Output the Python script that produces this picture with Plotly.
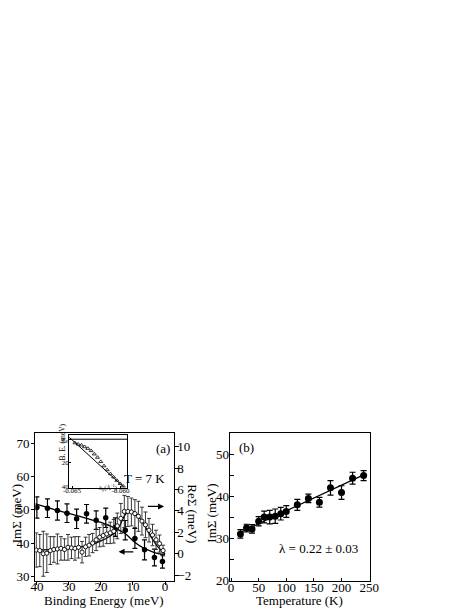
import plotly.graph_objects as go

# ---------------- data: panel (a) ----------------
im_be = [40.0, 36.7, 33.6, 30.6, 27.6, 24.5, 21.5, 18.5, 15.5, 12.4, 9.4, 6.4, 3.3, 0.8]
im_val = [50.7, 50.5, 49.8, 49.0, 47.3, 48.8, 46.9, 47.6, 44.8, 43.9, 41.4, 38.0, 35.7, 34.5]
im_err = [3.2, 2.8, 2.9, 2.8, 2.9, 2.8, 2.8, 2.9, 2.8, 2.9, 3.0, 3.0, 2.5, 2.0]

im_fit_be = [40.5, 37, 34, 30, 25, 20, 17, 15, 13, 12, 11, 10, 8.5, 7, 5, 3, 1, 0]
im_fit = [51.8, 50.8, 49.9, 48.9, 47.6, 46.2, 45.1, 44.2, 43.2, 42.5, 41.6, 40.7, 39.6, 38.7, 37.8, 37.1, 36.7, 36.6]

re_be = [40.2, 39.1, 38.0, 36.9, 35.8, 34.7, 33.6, 32.5, 31.4, 30.3, 29.2, 28.1, 27.0, 25.9,
         24.8, 23.7, 22.6, 21.5, 20.4, 19.3, 18.2, 17.1, 16.0, 14.9, 13.8, 12.7, 11.6, 10.5,
         9.4, 8.3, 7.2, 6.1, 5.0, 3.9, 2.8, 1.7, 0.6]
re_val = [0.35, 0.3, 0.0, 0.05, 0.3, 0.4, 0.45, 0.5, 0.4, 0.6, 0.55, 0.5, 0.6, 0.15,
          0.65, 0.8, 1.0, 1.3, 1.55, 1.7, 1.85, 1.95, 2.1, 2.6, 3.3, 3.95, 3.95, 3.9,
          3.75, 3.5, 3.05, 2.7, 2.2, 1.75, 1.3, 0.95, 0.3]
re_err = [1.6, 1.5, 2.1, 1.8, 1.3, 1.2, 1.4, 1.1, 1.0, 1.2, 1.0, 1.1, 1.0, 1.0,
          0.9, 1.0, 0.9, 1.0, 0.9, 1.0, 0.9, 1.0, 1.1, 1.2, 1.4, 1.5, 1.4, 1.3,
          1.3, 1.4, 1.3, 1.2, 1.1, 1.0, 0.9, 0.8, 0.5]

re_fit_be = [40.5, 36, 32, 28, 25, 22, 20, 18, 16, 15, 14, 13, 12, 11, 10, 9, 8, 7, 6, 5, 4, 3, 2, 1, 0]
re_fit = [0.35, 0.38, 0.45, 0.58, 0.72, 0.95, 1.2, 1.5, 1.9, 2.2, 2.7, 3.35, 3.8, 3.95, 3.92,
          3.72, 3.38, 2.95, 2.45, 1.9, 1.4, 0.95, 0.57, 0.25, 0.0]

# inset
inset_k = [-0.0647, -0.06437, -0.06403, -0.0637, -0.06337, -0.06303, -0.0627, -0.06237,
           -0.06203, -0.0617, -0.06137, -0.06103, -0.0607, -0.06037, -0.06003, -0.0597]
inset_be = [3.1, 4.2, 5.0, 6.4, 7.8, 9.7, 12.5, 15.3, 18.9, 22.5, 25.8, 29.2, 31.9, 34.7, 37.5, 39.7]
inset_line_k = [-0.0653, -0.0596]
inset_line_be = [-1.7, 40.8]

# ---------------- data: panel (b) ----------------
temp = [17, 28, 38, 50, 60, 70, 80, 90, 100, 120, 140, 160, 180, 200, 220, 240]
im_t = [31.1, 32.5, 32.3, 34.1, 35.1, 35.1, 35.3, 35.9, 36.4, 38.0, 39.5, 38.6, 42.0, 40.9, 44.3, 44.9]
im_t_err = [1.0, 0.9, 1.0, 1.1, 1.4, 1.6, 1.7, 1.5, 1.4, 1.3, 1.0, 1.15, 1.7, 1.6, 1.4, 1.2]
fit_t = [15, 242]
fit_im_t = [31.4, 45.2]

FONT = "Liberation Serif"
OFFX = 8          # page body margin offset (horizontal)
W, H = 471 - OFFX, 609


def px(x):
    return (x - OFFX) / W


def py(y):
    return 1 - y / H


fig = go.Figure()

# panel (a) traces
fig.add_trace(go.Scatter(x=im_fit_be, y=im_fit, mode="lines", line=dict(color="black", width=1.3, shape="spline"),
                         xaxis="x", yaxis="y", showlegend=False, hoverinfo="skip"))
fig.add_trace(go.Scatter(x=im_be, y=im_val, mode="markers",
                         marker=dict(symbol="circle", size=5.5, color="black"),
                         error_y=dict(type="data", array=im_err, color="black", thickness=1.2, width=2.5),
                         xaxis="x", yaxis="y", showlegend=False))
fig.add_trace(go.Scatter(x=re_fit_be, y=re_fit, mode="lines", line=dict(color="black", width=1.3, shape="spline"),
                         xaxis="x", yaxis="y2", showlegend=False, hoverinfo="skip"))
fig.add_trace(go.Scatter(x=re_be, y=re_val, mode="markers",
                         marker=dict(symbol="circle", size=4.2, color="white", line=dict(width=0.9, color="black")),
                         error_y=dict(type="data", array=re_err, color="#222222", thickness=0.9, width=2),
                         xaxis="x", yaxis="y2", showlegend=False))

# inset traces
fig.add_trace(go.Scatter(x=inset_line_k, y=inset_line_be, mode="lines", line=dict(color="black", width=1),
                         xaxis="x3", yaxis="y4", showlegend=False, hoverinfo="skip"))
fig.add_trace(go.Scatter(x=inset_k, y=inset_be, mode="markers",
                         marker=dict(symbol="triangle-up-open", size=3.5, color="black", line=dict(width=0.8)),
                         xaxis="x3", yaxis="y4", showlegend=False))

# panel (b) traces
fig.add_trace(go.Scatter(x=fit_t, y=fit_im_t, mode="lines", line=dict(color="black", width=1.2),
                         xaxis="x2", yaxis="y3", showlegend=False, hoverinfo="skip"))
fig.add_trace(go.Scatter(x=temp, y=im_t, mode="markers",
                         marker=dict(symbol="circle", size=7, color="black"),
                         error_y=dict(type="data", array=im_t_err, color="black", thickness=1.2, width=3),
                         xaxis="x2", yaxis="y3", showlegend=False))

tickfont = dict(family=FONT, size=13, color="black")
smallfont = dict(family=FONT, size=7, color="black")

axis_common = dict(showgrid=False, zeroline=False, showline=True, linecolor="black", linewidth=1.2,
                   tickcolor="black", tickfont=tickfont)

fig.update_layout(
    width=W, height=H,
    margin=dict(l=0, r=0, t=0, b=0),
    paper_bgcolor="white", plot_bgcolor="white",
    font=dict(family=FONT, color="black"),
    xaxis=dict(domain=[px(30), px(173)], range=[40.5, -2.7], anchor="y",
               tickvals=[40, 30, 20, 10, 0], ticks="outside", ticklen=3, mirror=True,
               ticklabelstandoff=-10, **axis_common),
    yaxis=dict(domain=[py(580.5), py(431)], range=[28.67, 72.96], anchor="x",
               tickvals=[30, 40, 50, 60, 70], ticks="outside", ticklen=3, ticklabelstandoff=-1, **axis_common),
    yaxis2=dict(overlaying="y", side="right", anchor="x", range=[-2.53, 11.24],
                tickvals=[-2, 0, 2, 4, 6, 8, 10], ticks="outside", ticklen=4, ticklabelstandoff=-4,
                **axis_common),
    xaxis2=dict(domain=[px(231), px(376)], range=[-2.3, 251.7], anchor="y3",
                tickvals=[0, 50, 100, 150, 200, 250], ticks="inside", ticklen=3, mirror=True,
                ticklabelstandoff=-6, **axis_common),
    yaxis3=dict(domain=[py(580.5), py(431)], range=[20, 54.9], anchor="x2",
                tickvals=[20, 30, 40, 50], ticks="inside", ticklen=4, mirror=True, ticklabelstandoff=-3,
                minor=dict(tickvals=[25, 35, 45], ticks="inside", ticklen=4, tickcolor="black"),
                **axis_common),
    xaxis3=dict(domain=[px(65), px(125)], range=[-0.0653, -0.0593], anchor="y4",
                tickvals=[-0.065, -0.060], ticktext=["-0.065", "-0.060"], ticks="inside", ticklen=2,
                mirror=True, showgrid=False, zeroline=False, showline=True, linecolor="black", linewidth=1,
                tickcolor="black", tickfont=smallfont, ticklabelstandoff=-4),
    yaxis4=dict(domain=[py(486), py(433)], range=[40.8, -3.3], anchor="x3",
                tickvals=[0, 20, 40], ticktext=["E<sub>F</sub>", "20", "40"], ticks="inside", ticklen=2,
                mirror=True, showgrid=False, zeroline=False, showline=True, linecolor="black", linewidth=1,
                tickcolor="black", tickfont=smallfont, ticklabelstandoff=-2),
)

# E_F line in inset
fig.add_shape(type="line", xref="x3 domain", x0=0, x1=1, yref="y4", y0=0, y1=0,
              line=dict(color="black", width=1))

lab = dict(family=FONT, size=13, color="black")
annots = [
    dict(x=px(10), y=py(512), text="ImΣ (meV)", textangle=-90),
    dict(x=px(193), y=py(512), text="ReΣ (meV)", textangle=90),
    dict(x=px(212), y=py(512), text="ImΣ (meV)", textangle=-90),
    dict(x=px(101), y=py(600), text="Binding Energy (meV)"),
    dict(x=px(303), y=py(600), text="Temperature (K)"),
    dict(x=px(162), y=py(446), text="(a)"),
    dict(x=px(143), y=py(477), text="T = 7 K"),
    dict(x=px(248), y=py(445), text="(b)"),
    dict(x=px(323), y=py(548), text="λ = 0.22 ± 0.03"),
]
for a in annots:
    fig.add_annotation(xref="paper", yref="paper", showarrow=False, xanchor="center", yanchor="middle",
                       font=lab, **a)

fig.add_annotation(xref="paper", yref="paper", x=px(51), y=py(461), text="B. E. (meV)", textangle=-90,
                   showarrow=False, font=dict(family=FONT, size=7.5, color="black"))
fig.add_annotation(xref="paper", yref="paper", x=px(94), y=py(492), text="<i>k</i><sub>y</sub>(Å<sup>-1</sup>)",
                   showarrow=False, font=dict(family=FONT, size=6.5, color="black"))

# arrows
fig.add_annotation(xref="x", yref="y2", x=0.3, y=4.42, axref="x", ayref="y2", ax=5.8, ay=4.42,
                   showarrow=True, arrowhead=2, arrowsize=1, arrowwidth=1.2, arrowcolor="black", text="")
fig.add_annotation(xref="x", yref="y", x=14.5, y=37.4, axref="x", ayref="y", ax=9.4, ay=37.4,
                   showarrow=True, arrowhead=2, arrowsize=1, arrowwidth=1.2, arrowcolor="black", text="")

fig.write_html("out.html", config={"displayModeBar": False})
